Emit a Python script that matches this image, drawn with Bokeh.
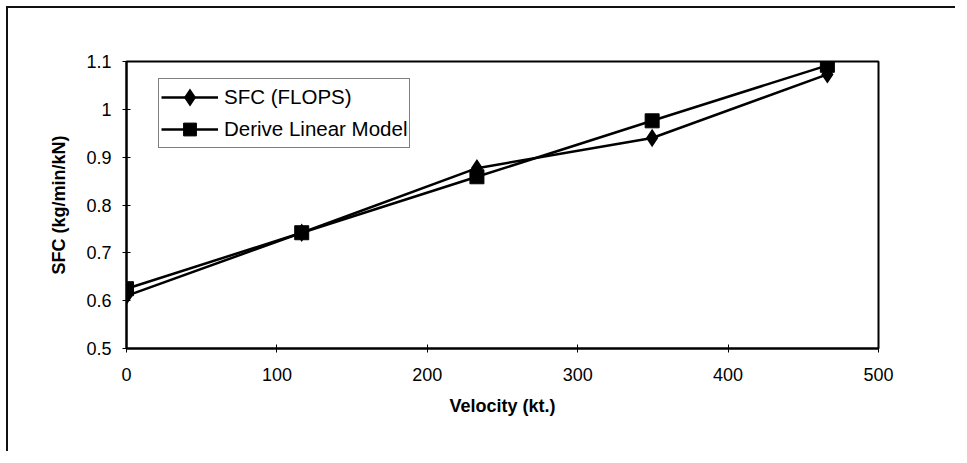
from bokeh.plotting import figure
from bokeh.models import FixedTicker, Legend, LegendItem
from bokeh.embed import file_html
from bokeh.resources import INLINE

# ---- data ----
velocity = [0, 116.5, 233, 349.5, 466]
sfc_flops = [0.61, 0.742, 0.877, 0.940, 1.073]
sfc_linear = [0.625, 0.742, 0.859, 0.976, 1.092]
x_ticks = [0, 100, 200, 300, 400, 500]
y_ticks = [0.5, 0.6, 0.7, 0.8, 0.9, 1.0, 1.1]
y_tick_labels = ["0.5", "0.6", "0.7", "0.8", "0.9", "1", "1.1"]
series_names = ["SFC (FLOPS)", "Derive Linear Model"]

FONT = "Liberation Sans"

p = figure(width=949, height=445, output_backend="svg", toolbar_location=None,
           x_range=(0, 500), y_range=(0.5, 1.1),
           min_border_left=118, min_border_top=53, min_border_right=79, min_border_bottom=105,
           background_fill_color="white", border_fill_color="white")
p.styles = {"border-left": "2px solid #111", "border-top": "2px solid #111",
            "margin-left": "6px", "margin-top": "6px"}

p.grid.visible = False
p.outline_line_color = "black"
p.outline_line_width = 2

for ax in (p.xaxis[0], p.yaxis[0]):
    ax.axis_line_width = 2
    ax.axis_line_color = "black"
    ax.major_tick_in = 4
    ax.major_tick_out = 4
    ax.major_tick_line_color = "black"
    ax.minor_tick_line_color = None
    ax.major_label_text_font = FONT
    ax.major_label_text_font_size = "18px"
    ax.major_label_text_color = "black"
    ax.axis_label_text_font = FONT
    ax.axis_label_text_font_style = "bold"
    ax.axis_label_text_font_size = "18px"
    ax.axis_label_text_color = "black"

p.xaxis.ticker = FixedTicker(ticks=x_ticks)
p.yaxis.ticker = FixedTicker(ticks=y_ticks)
p.yaxis.major_label_overrides = dict(zip(y_ticks, y_tick_labels))
p.xaxis.axis_label = "Velocity (kt.)"
p.yaxis.axis_label = "SFC (kg/min/kN)"
p.xaxis.major_label_standoff = 15
p.yaxis.major_label_standoff = 11
p.xaxis.axis_label_standoff = 12
p.yaxis.axis_label_standoff = 14

l1 = p.line(velocity, sfc_flops, line_color="black", line_width=2.5)
m1 = p.scatter(velocity, sfc_flops, marker="diamond", size=13, line_width=3,
               fill_color="black", line_color="black", line_join="miter")
l2 = p.line(velocity, sfc_linear, line_color="black", line_width=2.5)
m2 = p.scatter(velocity, sfc_linear, marker="square", size=14,
               fill_color="black", line_color="black")

legend = Legend(items=[LegendItem(label=series_names[0], renderers=[l1, m1]),
                       LegendItem(label=series_names[1], renderers=[l2, m2])],
                location=(32, 200))
legend.border_line_color = "black"
legend.border_line_width = 1
legend.background_fill_alpha = 1
legend.label_text_font = FONT
legend.label_text_font_size = "20.5px"
legend.label_text_color = "black"
legend.glyph_width = 57
legend.glyph_height = 32
legend.label_height = 32
legend.label_standoff = 6
legend.spacing = 0
legend.padding = 2
legend.margin = 0
p.add_layout(legend, "center")

open("out.html", "w").write(file_html(p, INLINE))
